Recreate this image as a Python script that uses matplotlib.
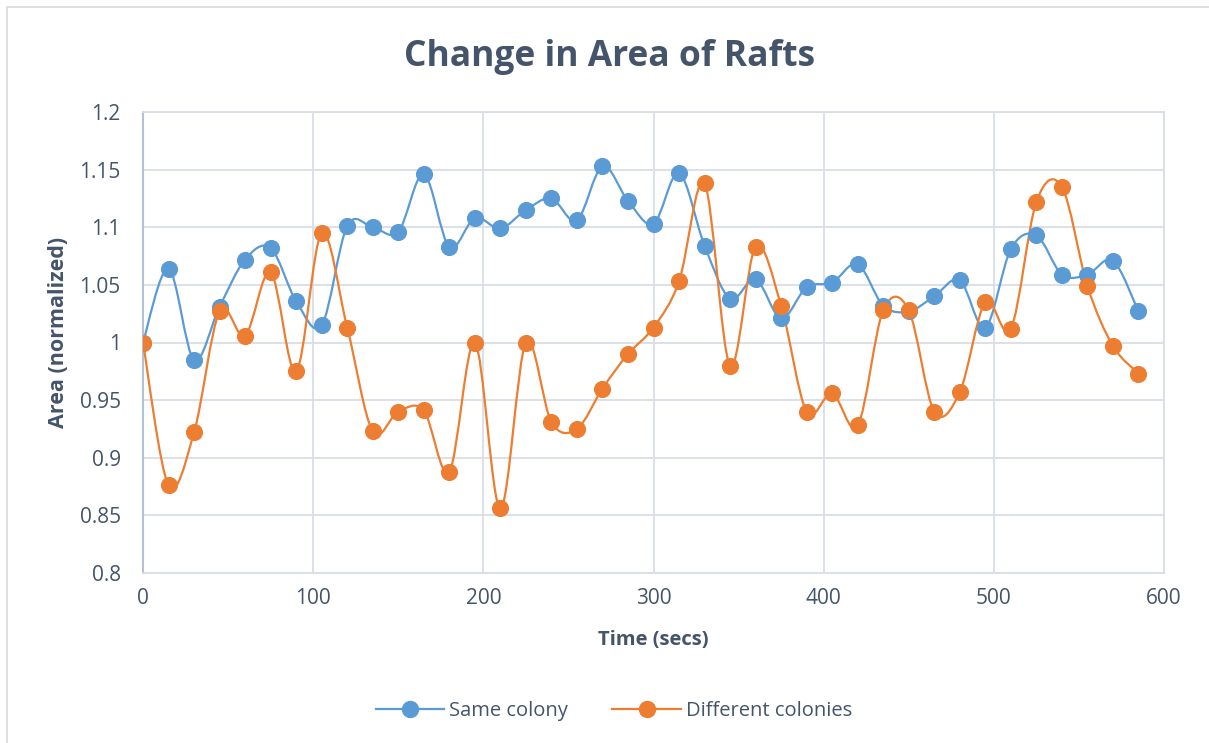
import numpy as np
import matplotlib
matplotlib.use("Agg")
import matplotlib.pyplot as plt
from matplotlib.path import Path
from matplotlib.patches import PathPatch, Rectangle
from matplotlib.lines import Line2D

# ---- data ----
time_secs = [0, 15, 30, 45, 60, 75, 90, 105, 120, 135, 150, 165, 180, 195, 210,
             225, 240, 255, 270, 285, 300, 315, 330, 345, 360, 375, 390, 405,
             420, 435, 450, 465, 480, 495, 510, 525, 540, 555, 570, 585]
same_colony = [1.000, 1.064, 0.985, 1.031, 1.072, 1.082, 1.036, 1.015, 1.101, 1.100,
               1.096, 1.146, 1.083, 1.108, 1.099, 1.115, 1.125, 1.106, 1.153, 1.123,
               1.103, 1.147, 1.084, 1.038, 1.055, 1.021, 1.048, 1.052, 1.068, 1.032,
               1.027, 1.040, 1.054, 1.013, 1.081, 1.093, 1.059, 1.059, 1.071, 1.027]
different_colonies = [1.000, 0.876, 0.922, 1.027, 1.006, 1.061, 0.975, 1.095, 1.013, 0.923,
                      0.940, 0.941, 0.888, 1.000, 0.856, 1.000, 0.931, 0.925, 0.960, 0.990,
                      1.013, 1.053, 1.138, 0.980, 1.083, 1.032, 0.940, 0.956, 0.928, 1.028,
                      1.028, 0.940, 0.957, 1.035, 1.012, 1.122, 1.135, 1.049, 0.997, 0.973]
series_names = ["Same colony", "Different colonies"]
title = "Change in Area of Rafts"
x_label = "Time (secs)"
y_label = "Area (normalized)"
x_ticks = [0, 100, 200, 300, 400, 500, 600]
y_ticks = [0.8, 0.85, 0.9, 0.95, 1.0, 1.05, 1.1, 1.15, 1.2]
y_tick_labels = ["0.8", "0.85", "0.9", "0.95", "1", "1.05", "1.1", "1.15", "1.2"]

BLUE = "#5B9BD5"
ORANGE = "#ED7D31"
TEXT = "#44546A"
GRID = "#D9DDE6"

FONT = "Open Sans"

W, H = 1209, 743
fig = plt.figure(figsize=(W / 100, H / 100), dpi=100)
ax = fig.add_axes([143 / W, 1 - 573 / H, (1164 - 143) / W, (573 - 112) / H])


def smooth_path(xs, ys):
    xs = np.asarray(xs, float)
    ys = np.asarray(ys, float)
    n = len(xs)
    verts = [(xs[0], ys[0])]
    codes = [Path.MOVETO]
    for i in range(n - 1):
        p0 = np.array([xs[max(i - 1, 0)], ys[max(i - 1, 0)]])
        p1 = np.array([xs[i], ys[i]])
        p2 = np.array([xs[i + 1], ys[i + 1]])
        p3 = np.array([xs[min(i + 2, n - 1)], ys[min(i + 2, n - 1)]])
        c1 = p1 + (p2 - p0) / 6.0
        c2 = p2 - (p3 - p1) / 6.0
        verts += [tuple(c1), tuple(c2), tuple(p2)]
        codes += [Path.CURVE4] * 3
    return Path(verts, codes)


for ys, col in [(same_colony, BLUE), (different_colonies, ORANGE)]:
    ax.add_patch(PathPatch(smooth_path(time_secs, ys), facecolor="none",
                           edgecolor=col, lw=1.6, zorder=3))
for ys, col in [(same_colony, BLUE), (different_colonies, ORANGE)]:
    ax.plot(time_secs, ys, linestyle="none", marker="o", ms=11.5,
            mfc=col, mec=col, mew=0.8, zorder=4)

ax.set_xlim(0, 600)
ax.set_ylim(0.8, 1.2)
ax.set_xticks(x_ticks)
ax.set_yticks(y_ticks)
ax.set_yticklabels(y_tick_labels)
ax.grid(True, color=GRID, lw=1.3, zorder=0)
ax.set_axisbelow(True)
for s in ["top", "right", "bottom"]:
    ax.spines[s].set_color(GRID)
    ax.spines[s].set_linewidth(1.3)
ax.spines["left"].set_color("#B4C0D6")
ax.spines["left"].set_linewidth(1.5)
ax.tick_params(length=0, labelsize=15, labelcolor=TEXT, pad=11)
ax.tick_params(axis="y", pad=16)
for lab in ax.get_xticklabels() + ax.get_yticklabels():
    lab.set_fontfamily(FONT)

fig.text(610 / W, 1 - 57 / H, title, ha="center", va="center",
         fontsize=25.5, fontweight="bold", color=TEXT, family=FONT)
fig.text(653 / W, 1 - 640 / H, x_label, ha="center", va="center",
         fontsize=14.5, fontweight="bold", color=TEXT, family=FONT)
fig.text(58 / W, 1 - 332 / H, y_label, ha="center", va="center", rotation=90,
         fontsize=15.5, fontweight="bold", color=TEXT, family=FONT)

handles = [Line2D([0], [0], color=BLUE, lw=1.6, marker="o", ms=11.5, mfc=BLUE, mec=BLUE),
           Line2D([0], [0], color=ORANGE, lw=1.6, marker="o", ms=11.5, mfc=ORANGE, mec=ORANGE)]
fig.legend(handles, series_names, loc="center", bbox_to_anchor=(614 / W, 1 - 711 / H),
           ncol=2, frameon=False, handlelength=3.4, columnspacing=2.2,
           handletextpad=0.25, prop={"family": FONT, "size": 14.5},
           labelcolor=TEXT)

fig.patches.append(Rectangle((7 / W, -0.05), 1.2, (1 - 7 / H) + 0.05,
                             transform=fig.transFigure, fill=False,
                             edgecolor="#D9D9D9", lw=1.2))

fig.savefig("out.png", dpi=100, facecolor="white")
